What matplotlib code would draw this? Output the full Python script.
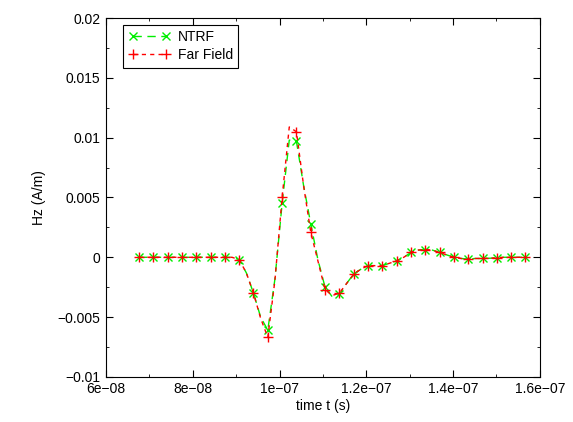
import numpy as np
import matplotlib
matplotlib.use("Agg")
from matplotlib import pyplot as plt
from matplotlib.ticker import MultipleLocator, FuncFormatter

# sampling: markers every 2nd sample (half-step samples)
t_start = 6.76e-08
t_step = 1.65e-09

# Hz (A/m), NTRF
ntrf = [0, 0, 0, 0, 0, 0, 0, 0, 0, 0, 0, 0, 0, 0,
        -0.0002, -0.0013, -0.0030, -0.0050, -0.0061, -0.0018,
        0.0045, 0.0098, 0.0097, 0.0060, 0.0028, -0.0002,
        -0.0025, -0.0033, -0.0031, -0.0022, -0.0014, -0.0010,
        -0.0007, -0.0007, -0.0007, -0.0005, -0.0003, 0.0000,
        0.0004, 0.0006, 0.00065, 0.0006, 0.0004, 0.0002,
        0.0000, -0.0001, -0.00015, -0.0001, -0.0001, -0.00008,
        -0.00005, 0, 0, 0, 0]

# Hz (A/m), far field
far = [0, 0, 0, 0, 0, 0, 0, 0, 0, 0, 0, 0, 0, 0,
       -0.0002, -0.0013, -0.0030, -0.0051, -0.0067, -0.0019,
       0.0050, 0.0109, 0.0105, 0.0060, 0.0021, -0.0003,
       -0.0027, -0.0032, -0.0030, -0.0022, -0.0014, -0.0010,
       -0.0007, -0.0007, -0.0007, -0.0005, -0.0003, 0.0000,
       0.0004, 0.0006, 0.00065, 0.0006, 0.0004, 0.0002,
       0.0000, -0.0001, -0.00015, -0.0001, -0.0001, -0.00008,
       -0.00005, 0, 0, 0, 0]

t = t_start + t_step * np.arange(len(ntrf))

plt.rcParams['font.family'] = ['Liberation Sans', 'DejaVu Sans']
plt.rcParams['font.size'] = 10

fig = plt.figure(figsize=(5.73, 4.22), dpi=100)
ax = fig.add_axes([0.185, 0.107, 0.757, 0.850])

ax.plot(t, ntrf, color='#00ee00', lw=1, dashes=(6, 4), marker='x',
        markersize=5.5, markeredgewidth=1, markevery=2, label='NTRF')
ax.plot(t, far, color='#ff0000', lw=1, dashes=(3, 3), marker='+',
        markersize=7, markeredgewidth=1, markevery=2, label='Far Field')

ax.set_xlim(6e-08, 1.6e-07)
ax.set_ylim(-0.01, 0.02)
ax.xaxis.set_major_locator(MultipleLocator(2e-08))
ax.xaxis.set_minor_locator(MultipleLocator(1e-08))
ax.yaxis.set_major_locator(MultipleLocator(0.005))
ax.yaxis.set_minor_locator(MultipleLocator(0.0025))

fmt = FuncFormatter(lambda v, p: ('%g' % float('%.6g' % v)).replace('-', '\u2212'))
ax.xaxis.set_major_formatter(fmt)
ax.yaxis.set_major_formatter(fmt)

ax.tick_params(which='both', direction='in', top=True, right=True)
ax.tick_params(which='major', length=5, pad=4)
ax.tick_params(which='minor', length=2.5)

ax.set_xlabel('time t (s)', labelpad=2)
ax.set_ylabel('Hz (A/m)', labelpad=8)

leg = ax.legend(loc='upper left', bbox_to_anchor=(0.04, 0.982), borderaxespad=0,
                handlelength=3.0, numpoints=2, fancybox=False, framealpha=1,
                edgecolor='black', borderpad=0.4, labelspacing=0.3, handletextpad=0.5)
leg.get_frame().set_linewidth(0.8)

fig.savefig('out.png', dpi=100)
